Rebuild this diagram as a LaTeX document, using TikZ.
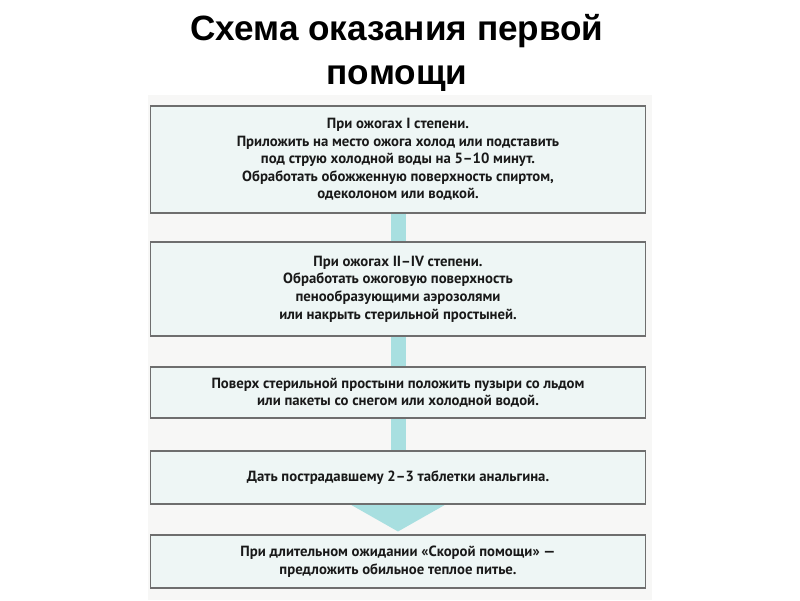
\documentclass[tikz,border=0pt]{standalone}
\usepackage{fontspec}
\setmainfont{PT Sans}
\newfontfamily\titlefont{Liberation Sans}
\usetikzlibrary{arrows.meta,backgrounds}
\definecolor{boxfill}{RGB}{238,246,245}
\definecolor{boxline}{RGB}{110,110,110}
\definecolor{flowcyan}{RGB}{168,223,224}
\definecolor{scanbg}{RGB}{247,247,246}
\tikzset{
  stepbox/.style={draw=boxline,fill=boxfill,line width=0.6pt,minimum width=9.9cm,
    align=center,text=black!90,font=\fontsize{8.4pt}{10pt}\selectfont\bfseries,inner sep=0pt},
  flowarrow/.style={draw=flowcyan,line width=0.3cm,
    -{Triangle[width=1.88cm,length=0.54cm]},shorten >=0.06cm}
}
\begin{document}
\begin{tikzpicture}[x=0.02cm,y=-0.02cm]
\useasboundingbox (0,0) rectangle (800,600);
%title
\node (title) at (397,53) [font=\titlefont\fontsize{20pt}{25pt}\selectfont\bfseries,align=center]
  {Схема оказания первой\\помощи};
%boxes
\node[stepbox,minimum height=2.14cm] (b1) at (398,159.5) {При ожогах I степени.\\
  Приложить на место ожога холод или подставить\\
  под струю холодной воды на 5--10 минут.\\
  Обработать обожженную поверхность спиртом,\\
  одеколоном или водкой.};
\node[stepbox,minimum height=1.88cm] (b2) at (398,289) {При ожогах II--IV степени.\\
  Обработать ожоговую поверхность\\
  пенообразующими аэрозолями\\
  или накрыть стерильной простыней.};
\node[stepbox,minimum height=1.02cm] (b3) at (398,392.5) {Поверх стерильной простыни положить пузыри со льдом\\
  или пакеты со снегом или холодной водой.};
\node[stepbox,minimum height=1.06cm] (b4) at (398,477.5) {Дать пострадавшему 2--3 таблетки анальгина.};
\node[stepbox,minimum height=1.06cm] (b5) at (398,561.5) {При длительном ожидании «Скорой помощи» ---\\
  предложить обильное теплое питье.};
%scanned page and arrow behind the boxes
\begin{scope}[on background layer]
\fill[scanbg] (148,95) rectangle (652,600);
\draw[flowarrow] (b1.south) -- (b5.north);
\end{scope}
\end{tikzpicture}
\end{document}
